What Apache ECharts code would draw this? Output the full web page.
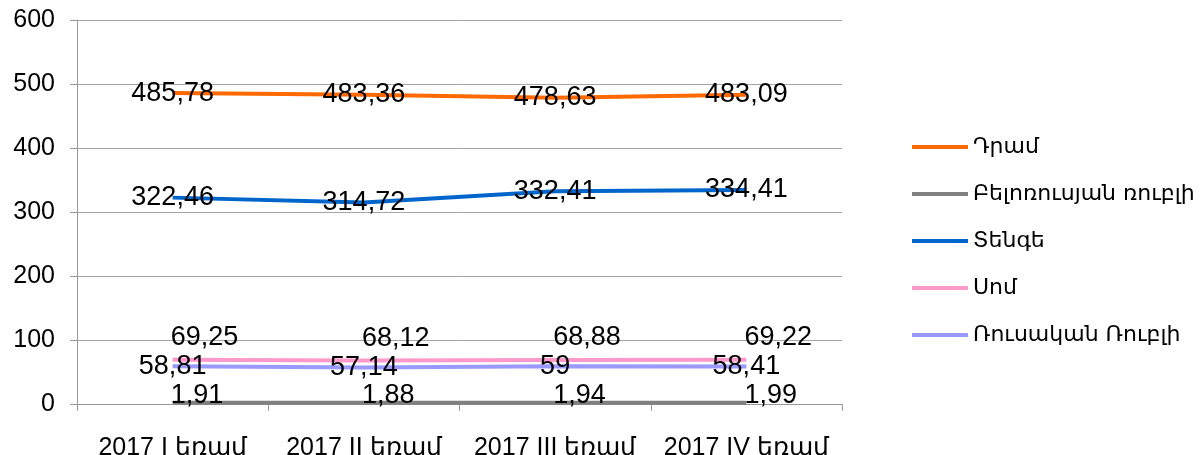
<!DOCTYPE html>
<html>
<head>
<meta charset="utf-8">
<script src="https://cdn.jsdelivr.net/npm/echarts@6/dist/echarts.min.js"></script>
<style>
html, body { margin: 0; padding: 0; background: #fff; }
#main { width: 1204px; height: 455px; }
</style>
</head>
<body>
<div id="main"></div>
<script>
// quarters
var categories = ['2017 I եռամ', '2017 II եռամ', '2017 III եռամ', '2017 IV եռամ'];
var seriesNames = ['Դրամ', 'Բելոռուսյան ռուբլի', 'Տենգե', 'Սոմ', 'Ռուսական Ռուբլի'];
var dram = [485.78, 483.36, 478.63, 483.09];
var belRub = [1.91, 1.88, 1.94, 1.99];
var tenge = [322.46, 314.72, 332.41, 334.41];
var som = [69.25, 68.12, 68.88, 69.22];
var rusRub = [58.81, 57.14, 59, 58.41];
var yTicks = [0, 100, 200, 300, 400, 500, 600];

var colors = ['#ff6a00', '#808080', '#0066cc', '#ff99cc', '#9999ff'];

function fmt(p) {
	return String(p.value).replace('.', ',');
}

function mkSeries(name, data, color, label) {
	return {
		name: name,
		type: 'line',
		data: data,
		symbol: 'circle',
		symbolSize: 0.1,
		showSymbol: true,
		lineStyle: { color: color, width: 4 },
		itemStyle: { color: color },
		label: Object.assign({
			show: true,
			formatter: fmt,
			color: '#000',
			fontFamily: 'Liberation Sans',
			fontSize: 27
		}, label)
	};
}

var myChart = echarts.init(document.getElementById('main'));
myChart.setOption({
	animation: false,
	grid: { left: 77, right: 362, top: 20, bottom: 51, outerBoundsMode: 'none', containLabel: false },
	legend: {
		orient: 'vertical',
		left: 907,
		top: 131,
		icon: 'rect',
		itemWidth: 56,
		itemHeight: 4,
		itemGap: 25,
		textStyle: { fontFamily: 'DejaVu Sans', fontSize: 22, color: '#000', lineHeight: 22 },
		data: seriesNames
	},
	xAxis: {
		type: 'category',
		data: categories,
		boundaryGap: true,
		axisLine: { lineStyle: { color: '#999', width: 1 } },
		axisTick: { show: true, length: 7, lineStyle: { color: '#999' } },
		axisLabel: { color: '#000', fontFamily: 'Liberation Sans', fontSize: 25, margin: 32, interval: 0 }
	},
	yAxis: {
		type: 'value',
		min: yTicks[0],
		max: yTicks[yTicks.length - 1],
		interval: 100,
		axisLine: { show: true, lineStyle: { color: '#999', width: 1 } },
		axisTick: { show: true, length: 7, lineStyle: { color: '#999' } },
		axisLabel: { color: '#000', fontFamily: 'Liberation Sans', fontSize: 25, margin: 22 },
		splitLine: { lineStyle: { color: '#a6a6a6' } }
	},
	series: [
		mkSeries(seriesNames[0], dram, colors[0], { position: 'inside' }),
		mkSeries(seriesNames[1], belRub, colors[1], { position: 'right', distance: -2, offset: [0, -7] }),
		mkSeries(seriesNames[2], tenge, colors[2], { position: 'inside' }),
		mkSeries(seriesNames[3], som, colors[3], { position: 'right', distance: -2, offset: [0, -22] }),
		mkSeries(seriesNames[4], rusRub, colors[4], { position: 'inside' })
	]
});
</script>
</body>
</html>
